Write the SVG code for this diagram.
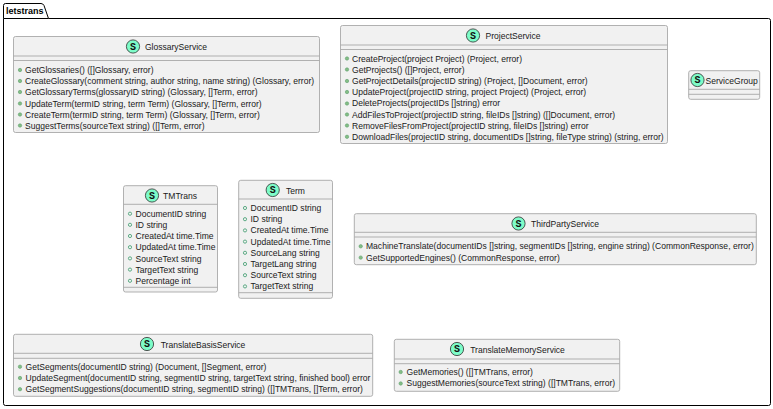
<svg xmlns="http://www.w3.org/2000/svg" width="773" height="409" viewBox="0 0 773 409">
<style>
.box{fill:#f1f1f1;stroke:#a8a8a8;stroke-width:.9}
.ln{stroke:#a8a8a8;stroke-width:.9;fill:none}
.ic{fill:#7dfcc8;stroke:#2e2e2e;stroke-width:.8}
.s{font:bold 10px "Liberation Mono",monospace;fill:#111;text-anchor:middle}
.t{font:8.55px "Liberation Sans",Arial,sans-serif;fill:#1a1a1a}
.n{text-anchor:middle}
.m{fill:#84be84;stroke:#5f9f70;stroke-width:.6}
.f{fill:none;stroke:#3b9a6c;stroke-width:.8}
.p{fill:#fff;stroke:#000;stroke-width:1}
</style>
<rect width="773" height="409" fill="#fff"/>
<g id="package-letstrans">
<path class="p" d="M3.5 18.5V5.5Q3.5 3.5 5.5 3.5H41Q43 3.5 44 5.5L48.5 18.5H768.5Q770.5 18.5 770.5 20.5V403.5Q770.5 405.5 768.5 405.5H5.5Q3.5 405.5 3.5 403.5Z"/>
<path class="ln" style="stroke:#000;stroke-width:1" d="M3.5 18.5H48.5"/>
<text x="6" y="14" style="font:bold 9px 'Liberation Sans',Arial,sans-serif;fill:#000">letstrans</text>
</g>
<g id="connectors"></g>
<g id="GlossaryService">
<rect class="box" x="13.5" y="36.5" width="306" height="96" rx="2"/>
<path class="ln" d="M13.5 56H319.5M13.5 60.5H319.5"/>
<circle class="ic" cx="133" cy="46.5" r="6.6"/><text class="s" x="133" y="49.9">S</text>
<text class="t n" x="176" y="50">GlossaryService</text>
<circle class="m" cx="20" cy="70" r="1.7"/><text class="t" x="25" y="73">GetGlossaries() ([]Glossary, error)</text>
<circle class="m" cx="20" cy="81" r="1.7"/><text class="t" x="25" y="84.2">CreateGlossary(comment string, author string, name string) (Glossary, error)</text>
<circle class="m" cx="20" cy="92" r="1.7"/><text class="t" x="25" y="95.4">GetGlossaryTerms(glossaryID string) (Glossary, []Term, error)</text>
<circle class="m" cx="20" cy="103.5" r="1.7"/><text class="t" x="25" y="106.6">UpdateTerm(termID string, term Term) (Glossary, []Term, error)</text>
<circle class="m" cx="20" cy="114.5" r="1.7"/><text class="t" x="25" y="117.8">CreateTerm(termID string, term Term) (Glossary, []Term, error)</text>
<circle class="m" cx="20" cy="125.5" r="1.7"/><text class="t" x="25" y="129">SuggestTerms(sourceText string) ([]Term, error)</text>
</g>
<g id="ProjectService">
<rect class="box" x="340.5" y="25.5" width="327" height="118" rx="2"/>
<path class="ln" d="M340.5 45H667.5M340.5 49.5H667.5"/>
<circle class="ic" cx="473" cy="35.5" r="6.6"/><text class="s" x="473" y="38.9">S</text>
<text class="t n" x="513" y="39">ProjectService</text>
<circle class="m" cx="347" cy="58.5" r="1.7"/><text class="t" x="352" y="61.5">CreateProject(project Project) (Project, error)</text>
<circle class="m" cx="347" cy="69.5" r="1.7"/><text class="t" x="352" y="72.7">GetProjects() ([]Project, error)</text>
<circle class="m" cx="347" cy="81" r="1.7"/><text class="t" x="352" y="83.9">GetProjectDetails(projectID string) (Project, []Document, error)</text>
<circle class="m" cx="347" cy="92" r="1.7"/><text class="t" x="352" y="95.1">UpdateProject(projectID string, project Project) (Project, error)</text>
<circle class="m" cx="347" cy="103.5" r="1.7"/><text class="t" x="352" y="106.3">DeleteProjects(projectIDs []string) error</text>
<circle class="m" cx="347" cy="114.5" r="1.7"/><text class="t" x="352" y="117.5">AddFilesToProject(projectID string, fileIDs []string) ([]Document, error)</text>
<circle class="m" cx="347" cy="125.5" r="1.7"/><text class="t" x="352" y="128.7">RemoveFilesFromProject(projectID string, fileIDs []string) error</text>
<circle class="m" cx="347" cy="136.8" r="1.7"/><text class="t" x="352" y="139.9">DownloadFiles(projectID string, documentIDs []string, fileType string) (string, error)</text>
</g>
<g id="ServiceGroup">
<rect class="box" x="688.7" y="70.7" width="71" height="28.6" rx="2"/>
<path class="ln" d="M688.7 89.3H759.7M688.7 94.3H759.7"/>
<circle class="ic" cx="697.5" cy="80" r="6.6"/><text class="s" x="697.5" y="83.4">S</text>
<text class="t" x="705.5" y="83.5">ServiceGroup</text>
</g>
<g id="TMTrans">
<rect class="box" x="123.5" y="185.7" width="94" height="106.3" rx="2"/>
<path class="ln" d="M123.5 204.3H217.5M123.5 287.3H217.5"/>
<circle class="ic" cx="152" cy="195.5" r="6.6"/><text class="s" x="152" y="198.9">S</text>
<text class="t n" x="180" y="199">TMTrans</text>
<circle class="f" cx="130" cy="213.7" r="1.6"/><text class="t" x="135.5" y="216.7">DocumentID string</text>
<circle class="f" cx="130" cy="224.8" r="1.6"/><text class="t" x="135.5" y="227.9">ID string</text>
<circle class="f" cx="130" cy="236" r="1.6"/><text class="t" x="135.5" y="239.1">CreatedAt time.Time</text>
<circle class="f" cx="130" cy="247.2" r="1.6"/><text class="t" x="135.5" y="250.3">UpdatedAt time.Time</text>
<circle class="f" cx="130" cy="258.4" r="1.6"/><text class="t" x="135.5" y="261.5">SourceText string</text>
<circle class="f" cx="130" cy="269.6" r="1.6"/><text class="t" x="135.5" y="272.7">TargetText string</text>
<circle class="f" cx="130" cy="280.8" r="1.6"/><text class="t" x="135.5" y="283.9">Percentage int</text>
</g>
<g id="Term">
<rect class="box" x="238.7" y="180.3" width="93.8" height="118" rx="2"/>
<path class="ln" d="M238.7 199H332.5M238.7 292.7H332.5"/>
<circle class="ic" cx="272.7" cy="190" r="6.6"/><text class="s" x="272.7" y="193.4">S</text>
<text class="t n" x="295.5" y="193.5">Term</text>
<circle class="f" cx="245" cy="208" r="1.6"/><text class="t" x="250.5" y="211">DocumentID string</text>
<circle class="f" cx="245" cy="219.2" r="1.6"/><text class="t" x="250.5" y="222.2">ID string</text>
<circle class="f" cx="245" cy="230.4" r="1.6"/><text class="t" x="250.5" y="233.4">CreatedAt time.Time</text>
<circle class="f" cx="245" cy="241.6" r="1.6"/><text class="t" x="250.5" y="244.6">UpdatedAt time.Time</text>
<circle class="f" cx="245" cy="252.8" r="1.6"/><text class="t" x="250.5" y="255.8">SourceLang string</text>
<circle class="f" cx="245" cy="264" r="1.6"/><text class="t" x="250.5" y="267">TargetLang string</text>
<circle class="f" cx="245" cy="275.2" r="1.6"/><text class="t" x="250.5" y="278.2">SourceText string</text>
<circle class="f" cx="245" cy="286.4" r="1.6"/><text class="t" x="250.5" y="289.4">TargetText string</text>
</g>
<g id="ThirdPartyService">
<rect class="box" x="354.3" y="213.7" width="402" height="51" rx="2"/>
<path class="ln" d="M354.3 232.3H756.3M354.3 237H756.3"/>
<circle class="ic" cx="518.5" cy="223.5" r="6.6"/><text class="s" x="518.5" y="226.9">S</text>
<text class="t n" x="565" y="227">ThirdPartyService</text>
<circle class="m" cx="360.7" cy="246.3" r="1.7"/><text class="t" x="366" y="249.3">MachineTranslate(documentIDs []string, segmentIDs []string, engine string) (CommonResponse, error)</text>
<circle class="m" cx="360.7" cy="257.6" r="1.7"/><text class="t" x="366" y="260.5">GetSupportedEngines() (CommonResponse, error)</text>
</g>
<g id="TranslateBasisService">
<rect class="box" x="13.5" y="334.3" width="359.2" height="62" rx="2"/>
<path class="ln" d="M13.5 353.3H372.7M13.5 358.3H372.7"/>
<circle class="ic" cx="147" cy="344" r="6.6"/><text class="s" x="147" y="347.4">S</text>
<text class="t n" x="203" y="347.5">TranslateBasisService</text>
<circle class="m" cx="20" cy="366.7" r="1.7"/><text class="t" x="25.5" y="369.8">GetSegments(documentID string) (Document, []Segment, error)</text>
<circle class="m" cx="20" cy="378" r="1.7"/><text class="t" x="25.5" y="381">UpdateSegment(documentID string, segmentID string, targetText string, finished bool) error</text>
<circle class="m" cx="20" cy="389.2" r="1.7"/><text class="t" x="25.5" y="392.2">GetSegmentSuggestions(documentID string, segmentID string) ([]TMTrans, []Term, error)</text>
</g>
<g id="TranslateMemoryService">
<rect class="box" x="394.3" y="339.3" width="225.4" height="52" rx="2"/>
<path class="ln" d="M394.3 359H619.7M394.3 363.7H619.7"/>
<circle class="ic" cx="457" cy="349" r="6.6"/><text class="s" x="457" y="352.4">S</text>
<text class="t n" x="517.5" y="353">TranslateMemoryService</text>
<circle class="m" cx="400.7" cy="372" r="1.7"/><text class="t" x="406.5" y="375">GetMemories() ([]TMTrans, error)</text>
<circle class="m" cx="400.7" cy="383.5" r="1.7"/><text class="t" x="406.5" y="386.2">SuggestMemories(sourceText string) ([]TMTrans, error)</text>
</g>
</svg>
